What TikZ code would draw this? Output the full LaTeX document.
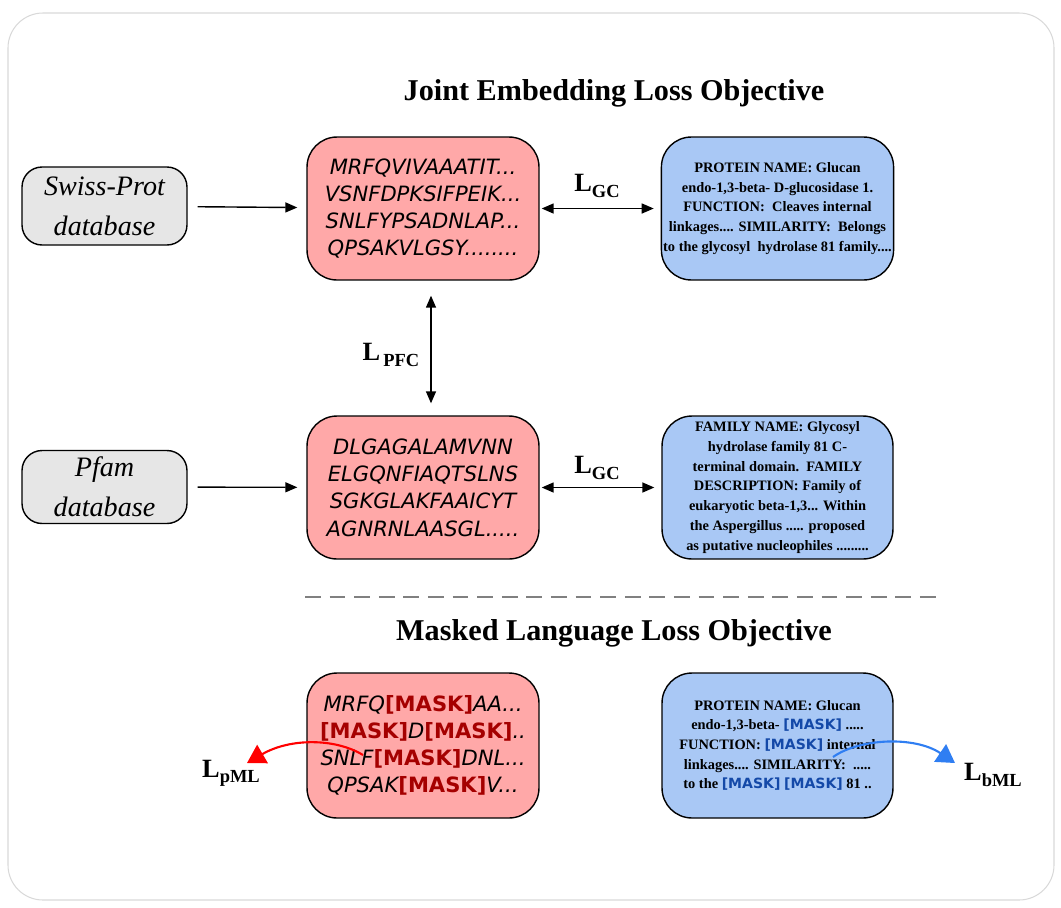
\documentclass[tikz,border=0pt]{standalone}
\usepackage{fontspec}
\setmainfont{Liberation Serif}
\newfontfamily\seqfont{DejaVu Sans}
\usetikzlibrary{arrows.meta}

\definecolor{seqpink}{HTML}{FFA8A8}
\definecolor{txtblue}{HTML}{A9C8F5}
\definecolor{dbgray}{HTML}{E6E6E6}
\definecolor{maskred}{HTML}{A50000}
\definecolor{maskblue}{HTML}{1449A8}
\definecolor{mlred}{HTML}{FF0000}
\definecolor{mlblue}{HTML}{2F7EF2}

\newcommand{\rmask}{{\upshape\bfseries\color{maskred}[MASK]}}
\newcommand{\bmask}{{\seqfont\bfseries\fontsize{8}{11.2}\selectfont\color{maskblue}[MASK]}}
\newcommand{\lossname}[1]{{\fontsize{15}{15}\selectfont\bfseries L}{\fontsize{10.5}{10.5}\selectfont\bfseries\raisebox{-3pt}{#1}}}

\tikzset{
	seqbox/.style={draw, fill=seqpink, rounded corners=0.6cm, minimum width=4.64cm, minimum height=2.86cm, align=center, line width=0.8pt, font=\seqfont\itshape\fontsize{12}{15.5}\selectfont},
	descbox/.style={draw, fill=txtblue, rounded corners=0.6cm, minimum width=4.62cm, minimum height=2.86cm, align=center, inner sep=1pt, line width=0.8pt, font=\bfseries\fontsize{8.2}{11.2}\selectfont},
	dbbox/.style={draw, fill=dbgray, rounded corners=0.4cm, minimum width=3.3cm, align=center, line width=0.8pt, font=\itshape\fontsize{16}{22.8}\selectfont},
	heading/.style={font=\bfseries\fontsize{17.2}{20}\selectfont},
	both/.style={{Triangle[length=0.24cm,width=0.2cm]}-{Triangle[length=0.24cm,width=0.2cm]}, line width=0.8pt},
	feed/.style={-{Triangle[length=0.24cm,width=0.2cm]}, line width=0.8pt, shorten <=0.2cm, shorten >=0.18cm},
	mlarrow/.style={-{Triangle[length=0.36cm,width=0.42cm]}, line width=1.2pt}
}

\begin{document}
\begin{tikzpicture}[x=0.02cm, y=-0.02cm]

	\useasboundingbox (0,0) rectangle (1061,907);
	\draw[gray!30, line width=0.6pt, rounded corners=0.7cm] (8,13) rectangle (1054,900);

	% joint embedding part
	\node[heading] (jtitle) at (614,93) {Joint Embedding Loss Objective};

	\node[dbbox, minimum height=1.56cm] (swiss) at (104.5,206) {Swiss-Prot\\database};
	\node[dbbox, minimum height=1.46cm] (pfam) at (104.5,487) {Pfam\\database};

	\node[seqbox] (seq1) at (423,208.5) {MRFQVIVAAATIT...\\VSNFDPKSIFPEIK...\\SNLFYPSADNLAP...\\QPSAKVLGSY........};
	\node[seqbox] (seq2) at (423,487.5) {DLGAGALAMVNN\\ELGQNFIAQTSLNS\\SGKGLAKFAAICYT\\AGNRNLAASGL.....};

	\node[descbox] (desc1) at (777.5,208.5) {PROTEIN NAME: Glucan\\endo-1,3-beta- D-glucosidase 1.\\FUNCTION:\ \ Cleaves internal\\linkages.... SIMILARITY:\ \ Belongs\\to the glycosyl\ \ hydrolase 81 family....};
	\node[descbox] (desc2) at (777.5,487.5) {FAMILY NAME: Glycosyl\\hydrolase family 81 C-\\terminal domain.\ \ FAMILY\\DESCRIPTION: Family of\\eukaryotic beta-1,3... Within\\the Aspergillus ..... proposed\\as putative nucleophiles .........};

	\draw[feed] (swiss) -- (seq1);
	\draw[feed] (pfam) -- (seq2);

	\foreach \s/\d/\y in {seq1/desc1/186, seq2/desc2/468}
	{
		\draw[both, shorten <=0.04cm, shorten >=0.14cm] (\s) -- (\d);
		\node (gc\s) at (597,\y) {\lossname{GC}};
	}

	\draw[both, shorten <=0.3cm, shorten >=0.24cm] ([xshift=0.16cm]seq1.south) -- ([xshift=0.16cm]seq2.north);
	\node (lpfc) at (391,355) {\lossname{\,PFC}};

	\draw[gray, line width=1.6pt, dash pattern=on 9pt off 5pt] (305,597) -- (940,597);

	% masked language part
	\node[heading] (mtitle) at (614,633) {Masked Language Loss Objective};

	\node[seqbox, minimum height=2.9cm] (seq3) at (423,745.5) {MRFQ\rmask AA...\\\rmask D\rmask..\\SNLF\rmask DNL...\\QPSAK\rmask V...};
	\node[descbox, minimum height=2.9cm] (desc3) at (777.5,745.5) {PROTEIN NAME: Glucan\\endo-1,3-beta- \bmask\ .....\\FUNCTION: \bmask\ internal\\linkages.... SIMILARITY:\ \ .....\\to the \bmask\ \bmask\ 81 ..};

	\node (lpml) at (231,773) {\lossname{pML}};
	\node (lbml) at (993,775) {\lossname{bML}};

	\coordinate (pmlfrom) at (363,755);
	\coordinate (pmlto) at (247,763);
	\coordinate (bmlfrom) at (833,757);
	\coordinate (bmlto) at (955,763);

	\draw[mlarrow, mlred] (pmlfrom) .. controls (335,738) and (290,738) .. (pmlto);
	\draw[mlarrow, mlblue] (bmlfrom) .. controls (860,738) and (915,736) .. (bmlto);

\end{tikzpicture}
\end{document}
